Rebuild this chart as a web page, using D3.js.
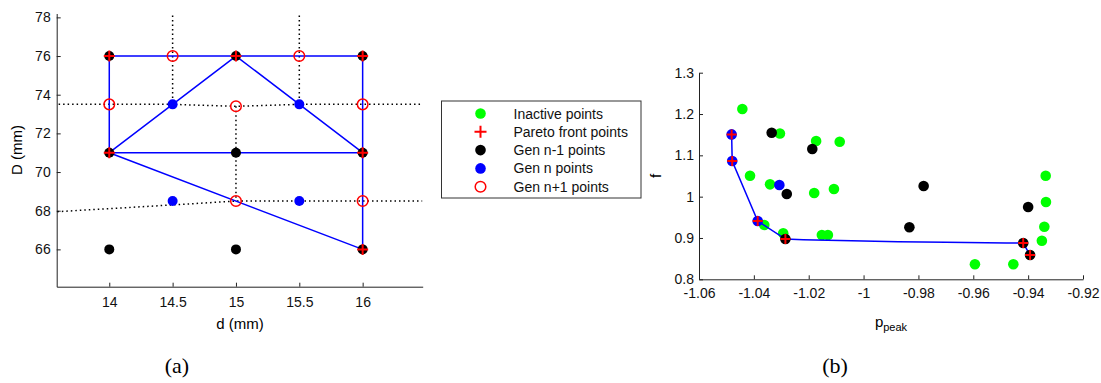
<!DOCTYPE html>
<html>
<head>
<meta charset="utf-8">
<script src="https://cdn.jsdelivr.net/npm/d3@7"></script>
<style>
  body { margin: 0; background: #fff; }
  text { font-family: "Liberation Sans", Arial, sans-serif; }
  text.caption { font-family: "Liberation Serif", "Times New Roman", serif; }
</style>
</head>
<body>
<script>
// ---------- data, panel (a) ----------
var genPrevA = [[14,76],[15,76],[16,76],[14,71],[15,71],[16,71],[14,66],[15,66],[16,66]]; // Gen n-1
var paretoA = [[14,76],[15,76],[16,76],[14,71],[16,71],[16,66]];
var genNA = [[14.5,73.5],[15.5,73.5],[14.5,68.5],[15.5,68.5]];
var genNextA = [[14.5,76],[15.5,76],[14,73.5],[15,73.4],[16,73.5],[15,68.5],[16,68.5]];
// blue simplex edges
var edgesA = [
  [[14,71],[14,76],[16,76],[16,66],[14,71],[16,71]],
  [[14,71],[15,76],[16,71]]
];
// dotted guide lines
var dottedA = [
  [[14.5,78.1],[14.5,73.5]],
  [[15.5,78.1],[15.5,73.5]],
  [[15,73.4],[15,68.5]],
  [[13.6,73.5],[14.5,73.5],[15,73.4],[15.5,73.5],[16.47,73.5]],
  [[13.59,67.95],[14.5,68.3],[15,68.5],[16.47,68.5]]
];
var xTicksA = [14,14.5,15,15.5,16];
var yTicksA = [66,68,70,72,74,76,78];

// ---------- data, panel (b) ----------
var inactiveB = [[-1.0442,1.212],[-1.0305,1.153],[-1.0173,1.1346],[-1.0087,1.1329],[-1.0414,1.0506],
  [-1.0341,1.0298],[-1.018,1.0088],[-1.0108,1.0184],[-1.0362,0.9313],[-1.0293,0.9113],[-1.0152,0.9072],
  [-1.013,0.907],[-0.9336,1.0506],[-0.9335,0.987],[-0.9341,0.9273],[-0.935,0.8934],[-0.9594,0.8363],[-0.9454,0.8363]];
var genPrevB = [[-1.0335,1.1546],[-1.0187,1.1152],[-1.028,1.0064],[-1.0285,0.8975],[-0.9781,1.0257],
  [-0.94,0.975],[-0.9833,0.9258],[-0.9418,0.8878],[-0.9393,0.8588]];
var genNB = [[-1.0481,1.1507],[-1.0479,1.0862],[-1.0307,1.0281],[-1.0386,0.941]];
var paretoB = [[-1.0481,1.1507],[-1.0479,1.0862],[-1.0386,0.941],[-1.0285,0.8975],[-0.9418,0.8878],[-0.9393,0.8588]];
var frontB = [[-1.0481,1.1507],[-1.0479,1.0862],[-1.0386,0.941],[-1.0285,0.8975],[-1.022,0.8958],
  [-1.0043,0.8934],[-0.9874,0.891],[-0.97,0.8895],[-0.948,0.8878],[-0.9418,0.8878],[-0.9393,0.8588]];
var xTicksB = [-1.06,-1.04,-1.02,-1,-0.98,-0.96,-0.94,-0.92];
var yTicksB = [0.8,0.9,1,1.1,1.2,1.3];

var legendLabels = ["Inactive points","Pareto front points","Gen n-1 points","Gen n points","Gen n+1 points"];

var svg = d3.select("body").append("svg").attr("width", 1101).attr("height", 383);

// ---------- helpers ----------
function plusAt(g, data, x, y, size, cls) {
  g.selectAll("path." + cls).data(data).enter().append("path")
    .attr("class", cls)
    .attr("d", function (d) {
      var cx = x(d[0]), cy = y(d[1]);
      return "M" + (cx - size) + "," + cy + "H" + (cx + size) + "M" + cx + "," + (cy - size) + "V" + (cy + size);
    })
    .attr("stroke", "#ff0000").attr("stroke-width", 2).attr("fill", "none");
}
function dots(g, data, x, y, r, fill) {
  g.selectAll(null).data(data).enter().append("circle")
    .attr("cx", function (d) { return x(d[0]); })
    .attr("cy", function (d) { return y(d[1]); })
    .attr("r", r).attr("fill", fill);
}
function styleAxis(g) {
  g.selectAll("path, line").attr("stroke", "#222");
  g.selectAll("text").attr("font-size", 14).attr("fill", "#111");
}
function fmt(d) { return String(+d.toFixed(2)); }

// ---------- panel (a) ----------
var xA = d3.scaleLinear().domain([13.585, 16.474]).range([56.7, 422.7]);
var yA = d3.scaleLinear().domain([64.07, 78.2]).range([286.7, 13.5]);
var gA = svg.append("g");

gA.append("g").attr("transform", "translate(0,286.7)")
  .call(d3.axisBottom(xA).tickValues(xTicksA).tickFormat(fmt).tickSize(-4).tickSizeOuter(0).tickPadding(10))
  .call(styleAxis);
gA.append("g").attr("transform", "translate(56.7,0)")
  .call(d3.axisLeft(yA).tickValues(yTicksA).tickSize(-4).tickSizeOuter(0).tickPadding(6))
  .call(styleAxis);

var lineA = d3.line().x(function (d) { return xA(d[0]); }).y(function (d) { return yA(d[1]); });
gA.selectAll("path.dot").data(dottedA).enter().append("path")
  .attr("class", "dot").attr("d", lineA).attr("fill", "none")
  .attr("stroke", "#000").attr("stroke-width", 1.5).attr("stroke-dasharray", "1.5,3");
gA.selectAll("path.edge").data(edgesA).enter().append("path")
  .attr("class", "edge").attr("d", lineA).attr("fill", "none")
  .attr("stroke", "#0000ff").attr("stroke-width", 1.5).attr("stroke-linejoin", "round");

dots(gA, genPrevA, xA, yA, 5, "#000");
dots(gA, genNA, xA, yA, 5, "#0000ff");
gA.selectAll("circle.next").data(genNextA).enter().append("circle")
  .attr("class", "next")
  .attr("cx", function (d) { return xA(d[0]); })
  .attr("cy", function (d) { return yA(d[1]); })
  .attr("r", 5.3).attr("fill", "none").attr("stroke", "#ff0000").attr("stroke-width", 1.5);
plusAt(gA, paretoA, xA, yA, 5.5, "parA");

gA.append("text").attr("transform", "translate(22,150) rotate(-90)")
  .attr("text-anchor", "middle").attr("font-size", 15).text("D (mm)");
gA.append("text").attr("x", 240).attr("y", 329)
  .attr("text-anchor", "middle").attr("font-size", 15).text("d (mm)");

// ---------- legend ----------
var leg = svg.append("g").attr("transform", "translate(441.5,101)");
leg.append("rect").attr("width", 199.5).attr("height", 97)
  .attr("fill", "#fff").attr("stroke", "#333").attr("stroke-width", 1);
legendLabels.forEach(function (lab, i) {
  var cy = 12.5 + i * 18.3;
  if (i === 0) leg.append("circle").attr("cx", 39).attr("cy", cy).attr("r", 5.3).attr("fill", "#00ff00");
  if (i === 1) leg.append("path").attr("d", "M33," + cy + "H45M39," + (cy - 6) + "V" + (cy + 6))
    .attr("stroke", "#ff0000").attr("stroke-width", 2);
  if (i === 2) leg.append("circle").attr("cx", 39).attr("cy", cy).attr("r", 5.3).attr("fill", "#000");
  if (i === 3) leg.append("circle").attr("cx", 39).attr("cy", cy).attr("r", 5.3).attr("fill", "#0000ff");
  if (i === 4) leg.append("circle").attr("cx", 39).attr("cy", cy).attr("r", 5.3)
    .attr("fill", "none").attr("stroke", "#ff0000").attr("stroke-width", 1.5);
  leg.append("text").attr("x", 72).attr("y", cy + 5).attr("font-size", 14).attr("fill", "#111").text(lab);
});

// ---------- panel (b) ----------
var xB = d3.scaleLinear().domain([-1.06, -0.92]).range([699, 1083]);
var yB = d3.scaleLinear().domain([0.8, 1.3]).range([279.3, 72.7]);
var gB = svg.append("g");

gB.append("g").attr("transform", "translate(0,279.3)")
  .call(d3.axisBottom(xB).tickValues(xTicksB).tickFormat(fmt).tickSize(-4).tickSizeOuter(0).tickPadding(9))
  .call(styleAxis);
gB.append("g").attr("transform", "translate(699,0)")
  .call(d3.axisLeft(yB).tickValues(yTicksB).tickFormat(fmt).tickSize(-4).tickSizeOuter(0).tickPadding(5))
  .call(styleAxis);

dots(gB, inactiveB, xB, yB, 5.3, "#00ff00");
var lineB = d3.line().x(function (d) { return xB(d[0]); }).y(function (d) { return yB(d[1]); });
gB.append("path").datum(frontB).attr("d", lineB).attr("fill", "none")
  .attr("stroke", "#0000ff").attr("stroke-width", 1.5);
dots(gB, genNB, xB, yB, 5.3, "#0000ff");
dots(gB, genPrevB, xB, yB, 5.3, "#000");
plusAt(gB, paretoB, xB, yB, 5, "parB");

gB.append("text").attr("transform", "translate(661,176) rotate(-90)")
  .attr("text-anchor", "middle").attr("font-size", 15).text("f");
var pl = gB.append("text").attr("x", 891).attr("y", 327).attr("text-anchor", "middle").attr("font-size", 15);
pl.append("tspan").text("p");
pl.append("tspan").attr("font-size", 11).attr("dy", 4).text("peak");

// ---------- panel captions ----------
svg.append("text").attr("class", "caption").attr("x", 177).attr("y", 373).attr("text-anchor", "middle")
  .attr("font-size", 22).text("(a)");
svg.append("text").attr("class", "caption").attr("x", 835).attr("y", 373).attr("text-anchor", "middle")
  .attr("font-size", 22).text("(b)");
</script>
</body>
</html>
